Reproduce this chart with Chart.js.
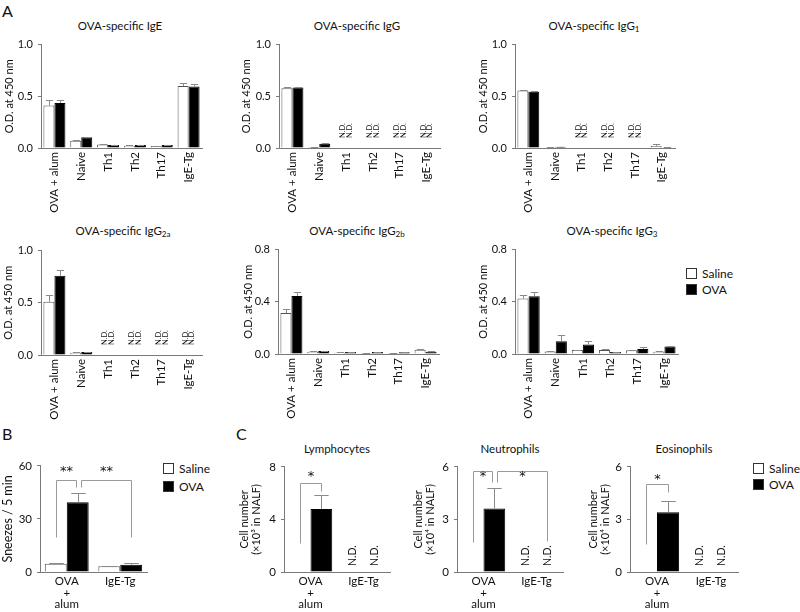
<!DOCTYPE html>
<html lang="en">
<head>
<meta charset="UTF-8">
<title>OVA-specific antibodies, sneezing and NALF cells</title>
<script src="https://cdn.jsdelivr.net/npm/chart.js"></script>
<style>
  body { margin: 0; background: #fff; font-family: Lato, 'Open Sans', sans-serif; color: #111; }
  #page { position: relative; width: 800px; height: 612px; overflow: hidden; }
  canvas { position: absolute; }
  .txt { position: absolute; white-space: nowrap; }
  .letter { font-size: 16px; line-height: 16px; }
  .title { font-size: 11.5px; line-height: 14px; transform: translate(-50%, -50%); }
  .title sub { font-size: 70%; vertical-align: -2px; line-height: 0; }
  .legend { position: absolute; font-size: 12px; white-space: nowrap; }
  .legend div { height: 16px; line-height: 16px; }
  .legend .box { display: inline-block; width: 9px; height: 9px; border: 1px solid #333; margin-right: 5px; vertical-align: -1px; }
</style>
</head>
<body>
<div id="page">
  <div class="txt letter" style="left:2px; top:3px;">A</div>
  <div class="txt letter" style="left:2px; top:426px;">B</div>
  <div class="txt letter" style="left:236px; top:426px;">C</div>

  <div class="txt title" style="left:120px; top:26px;">OVA-specific IgE</div>
  <div class="txt title" style="left:357px; top:26px;">OVA-specific IgG</div>
  <div class="txt title" style="left:594px; top:26px;">OVA-specific IgG<sub>1</sub></div>
  <div class="txt title" style="left:123px; top:231px;">OVA-specific IgG<sub>2a</sub></div>
  <div class="txt title" style="left:357px; top:231px;">OVA-specific IgG<sub>2b</sub></div>
  <div class="txt title" style="left:612px; top:231px;">OVA-specific IgG<sub>3</sub></div>
  <div class="txt title" style="left:337px; top:449px;">Lymphocytes</div>
  <div class="txt title" style="left:510px; top:449px;">Neutrophils</div>
  <div class="txt title" style="left:684px; top:449px;">Eosinophils</div>

  <div class="legend" style="left:686px; top:266px;">
    <div><span class="box" style="background:#fff"></span>Saline</div>
    <div><span class="box" style="background:#000"></span>OVA</div>
  </div>
  <div class="legend" style="left:163px; top:461px;">
    <div style="height:18px"><span class="box" style="background:#fff"></span>Saline</div>
    <div><span class="box" style="background:#000"></span>OVA</div>
  </div>
  <div class="legend" style="left:753px; top:461px;">
    <div><span class="box" style="background:#fff"></span>Saline</div>
    <div><span class="box" style="background:#000"></span>OVA</div>
  </div>
</div>

<script>
  // categories
  const groupsA = ['OVA + alum', 'Naive', 'Th1', 'Th2', 'Th17', 'IgE-Tg'];
  const groupsBC = [['OVA', '+', 'alum'], 'IgE-Tg'];

  // A: O.D. at 450 nm (null = N.D.)
  const igeSaline = [0.41, 0.07, 0.035, 0.022, 0.02, 0.60];
  const igeSalineErr = [0.05, 0.004, 0.004, 0.003, 0.003, 0.03];
  const igeOva = [0.435, 0.105, 0.03, 0.03, 0.03, 0.595];
  const igeOvaErr = [0.03, 0.006, 0.003, 0.003, 0.003, 0.025];

  const iggSaline = [0.578, 0.01, null, null, null, null];
  const iggSalineErr = [0.008, 0.002, 0, 0, 0, 0];
  const iggOva = [0.585, 0.04, null, null, null, null];
  const iggOvaErr = [0.005, 0.006, 0, 0, 0, 0];

  const igg1Saline = [0.555, 0.005, null, null, null, 0.02];
  const igg1SalineErr = [0.005, 0.001, 0, 0, 0, 0.014];
  const igg1Ova = [0.545, 0.012, null, null, null, 0.004];
  const igg1OvaErr = [0.01, 0.002, 0, 0, 0, 0.001];

  const igg2aSaline = [0.51, 0.022, null, null, null, null];
  const igg2aSalineErr = [0.065, 0.003, 0, 0, 0, 0];
  const igg2aOva = [0.76, 0.028, null, null, null, null];
  const igg2aOvaErr = [0.05, 0.003, 0, 0, 0, 0];

  const igg2bSaline = [0.314, 0.018, 0.01, 0.008, 0.008, 0.033];
  const igg2bSalineErr = [0.028, 0.003, 0.002, 0.002, 0.002, 0.007];
  const igg2bOva = [0.445, 0.023, 0.015, 0.015, 0.013, 0.018];
  const igg2bOvaErr = [0.033, 0.002, 0.003, 0.002, 0.002, 0.002];

  const igg3Saline = [0.425, 0.02, 0.03, 0.03, 0.028, 0.018];
  const igg3SalineErr = [0.03, 0.003, 0.004, 0.005, 0.003, 0.002];
  const igg3Ova = [0.443, 0.098, 0.073, 0.015, 0.038, 0.058];
  const igg3OvaErr = [0.032, 0.045, 0.025, 0.002, 0.015, 0.007];

  // B: sneezes / 5 min
  const sneezeSaline = [4.6, 3.2];
  const sneezeSalineErr = [0.4, 0.3];
  const sneezeOva = [39.4, 4.1];
  const sneezeOvaErr = [5.2, 1.1];

  // C: cell number in NALF
  const lymphSaline = [0, null];
  const lymphOva = [4.8, null];
  const lymphOvaErr = [1.07, 0];
  const neutSaline = [0, null];
  const neutOva = [3.62, null];
  const neutOvaErr = [1.2, 0];
  const eosSaline = [0, null];
  const eosOva = [3.41, null];
  const eosOvaErr = [0.62, 0];

  // tick labels
  const ticksOD10 = [0, 0.5, 1.0];
  const ticksOD08 = [0, 0.4, 0.8];
  const ticksSneeze = [0, 30, 60];
  const ticksLymph = [0, 4, 8];
  const ticksCell6 = [0, 3, 6];

  const page = document.getElementById('page');
  Chart.defaults.font.family = "Lato, 'Open Sans', sans-serif";
  Chart.defaults.color = '#111';

  const AXIS = '#7a7a7a';

  // upward error bars with a cap
  const errorBars = {
    id: 'errorBars',
    afterDatasetsDraw(chart) {
      const {ctx} = chart;
      const y = chart.scales.y;
      chart.data.datasets.forEach((ds, di) => {
        if (!ds.errors) return;
        chart.getDatasetMeta(di).data.forEach((bar, i) => {
          const v = ds.data[i], e = ds.errors[i];
          if (v === null || !e) return;
          const x = Math.round(bar.x) + 0.5;
          const y0 = y.getPixelForValue(v), y1 = Math.round(y.getPixelForValue(v + e)) + 0.5;
          const cap = bar.width * 0.33;
          ctx.save();
          ctx.strokeStyle = '#8a8a8a';
          ctx.lineWidth = 1;
          ctx.beginPath();
          ctx.moveTo(x, y0);
          ctx.lineTo(x, y1);
          ctx.moveTo(x - cap, y1);
          ctx.lineTo(x + cap, y1);
          ctx.stroke();
          ctx.restore();
        });
      });
    }
  };

  // "N.D." written upright above the axis where there is no value
  const ndLabels = {
    id: 'ndLabels',
    defaults: {size: 7, gap: 10, squeeze: 1},
    afterDatasetsDraw(chart, args, opts) {
      const {ctx} = chart;
      const {x, y} = chart.scales;
      ctx.save();
      ctx.fillStyle = '#111';
      ctx.font = opts.size + "px Lato, 'Open Sans', sans-serif";
      ctx.textAlign = 'left';
      ctx.textBaseline = 'middle';
      chart.data.datasets.forEach((ds, di) => {
        const meta = chart.getDatasetMeta(di);
        ds.data.forEach((v, i) => {
          if (v !== null) return;
          const cx = x.getPixelForValue(i);
          const px = cx + (meta.data[i].x - cx) * opts.squeeze;
          ctx.save();
          ctx.translate(px, y.bottom - opts.gap);
          ctx.rotate(-Math.PI / 2);
          ctx.fillText('N.D.', 0, 0);
          ctx.restore();
        });
      });
      ctx.restore();
    }
  };

  // significance brackets between bars
  const brackets = {
    id: 'brackets',
    defaults: {items: []},
    afterDatasetsDraw(chart, args, opts) {
      const {ctx} = chart;
      const y = chart.scales.y;
      const barX = ref => Math.round(chart.getDatasetMeta(ref[0]).data[ref[1]].x + (ref[2] || 0)) + 0.5;
      const py = v => Math.round(y.getPixelForValue(v)) + 0.5;
      opts.items.forEach(b => {
        const x1 = barX(b.from), x2 = barX(b.to), yt = py(b.top);
        ctx.save();
        ctx.strokeStyle = '#9a9a9a';
        ctx.lineWidth = 1;
        ctx.beginPath();
        ctx.moveTo(x1, py(b.fromBottom));
        ctx.lineTo(x1, yt);
        ctx.lineTo(x2, yt);
        ctx.lineTo(x2, py(b.toBottom));
        ctx.stroke();
        ctx.fillStyle = '#111';
        ctx.font = "13px 'DejaVu Sans', sans-serif";
        ctx.textAlign = 'center';
        ctx.textBaseline = 'middle';
        ctx.fillText(b.label, (x1 + x2) / 2, y.getPixelForValue(b.labelAt));
        ctx.restore();
      });
    }
  };

  function barChart(s) {
    const titleFont = {size: s.yTitleSize, lineHeight: 1.1};
    const lh = titleFont.size * titleFont.lineHeight;
    const left = Math.round(s.yTitleX - lh / 2);
    const top = s.plot[1] - 10;
    const width = s.plot[2] + 10 - left;
    const height = s.plot[3] + s.xAxisH - top;
    const yAxisW = s.plot[0] - left;

    const canvas = document.createElement('canvas');
    canvas.width = width;
    canvas.height = height;
    canvas.style.left = left + 'px';
    canvas.style.top = top + 'px';
    canvas.style.width = width + 'px';
    canvas.style.height = height + 'px';
    page.appendChild(canvas);

    return new Chart(canvas, {
      type: 'bar',
      data: {
        labels: s.labels,
        datasets: [
          {label: 'Saline', data: s.saline, errors: s.salineErr, backgroundColor: '#fff', borderColor: '#555', borderWidth: 1},
          {label: 'OVA', data: s.ova, errors: s.ovaErr, backgroundColor: '#000', borderColor: '#000', borderWidth: 1}
        ]
      },
      options: {
        responsive: false,
        animation: false,
        layout: {padding: {top: 10, right: 10, left: 0, bottom: 0}},
        datasets: {bar: {categoryPercentage: 0.82, barPercentage: 1}},
        plugins: {
          legend: {display: false},
          tooltip: {enabled: false},
          ndLabels: s.nd,
          brackets: {items: s.brackets || []}
        },
        scales: {
          x: {
            grid: {display: false, drawTicks: false},
            border: {display: true, color: AXIS},
            ticks: {autoSkip: false, maxRotation: s.rot, minRotation: s.rot, padding: 4,
                    font: {size: s.xFontSize, lineHeight: 1}},
            afterFit: sc => { sc.height = s.xAxisH; }
          },
          y: {
            min: s.ticks[0],
            max: s.ticks[s.ticks.length - 1],
            grid: {display: true, drawOnChartArea: false, drawTicks: true, tickLength: 3, color: AXIS},
            border: {display: true, color: AXIS},
            ticks: {padding: 5, font: {size: s.yFontSize}, callback: v => v.toFixed(s.dec)},
            afterBuildTicks: sc => { sc.ticks = s.ticks.map(v => ({value: v})); },
            afterFit: sc => { sc.width = yAxisW; },
            title: {display: true, text: s.yTitle, padding: 0, font: titleFont}
          }
        }
      },
      plugins: [errorBars, ndLabels, brackets]
    });
  }

  const odTitle = 'O.D. at 450 nm';
  const ndA = {size: 7.5, gap: 10, squeeze: 0.62};
  const ndC = {size: 10.5, gap: 6, squeeze: 1};
  const panelA = {labels: groupsA, rot: 90, xAxisH: 70, xFontSize: 11.5, yFontSize: 11, yTitle: odTitle, yTitleSize: 11, dec: 1, nd: ndA};
  const panelBC = {labels: groupsBC, rot: 0, xAxisH: 40, xFontSize: 11.5, yFontSize: 11.5, dec: 0, nd: ndC};
  const cellTitle3 = ['Cell number', '(×10³ in NALF)'];
  const cellTitle4 = ['Cell number', '(×10⁴ in NALF)'];

  barChart({...panelA, plot: [41, 43, 202, 148], yTitleX: 9, ticks: ticksOD10,
    saline: igeSaline, salineErr: igeSalineErr, ova: igeOva, ovaErr: igeOvaErr});
  barChart({...panelA, plot: [279, 43, 440, 148], yTitleX: 246, ticks: ticksOD10,
    saline: iggSaline, salineErr: iggSalineErr, ova: iggOva, ovaErr: iggOvaErr});
  barChart({...panelA, plot: [515, 43, 675, 148], yTitleX: 483, ticks: ticksOD10,
    saline: igg1Saline, salineErr: igg1SalineErr, ova: igg1Ova, ovaErr: igg1OvaErr});
  barChart({...panelA, plot: [41, 249, 202, 355], yTitleX: 8, ticks: ticksOD10,
    saline: igg2aSaline, salineErr: igg2aSalineErr, ova: igg2aOva, ovaErr: igg2aOvaErr});
  barChart({...panelA, plot: [278, 248, 439, 354], yTitleX: 248, ticks: ticksOD08,
    saline: igg2bSaline, salineErr: igg2bSalineErr, ova: igg2bOva, ovaErr: igg2bOvaErr});
  barChart({...panelA, plot: [515, 248, 678, 354], yTitleX: 483, ticks: ticksOD08,
    saline: igg3Saline, salineErr: igg3SalineErr, ova: igg3Ova, ovaErr: igg3OvaErr});

  barChart({...panelBC, plot: [40, 464, 147, 572], yTitleX: 8, yTitle: 'Sneezes / 5 min', yTitleSize: 12.5,
    ticks: ticksSneeze, saline: sneezeSaline, salineErr: sneezeSalineErr, ova: sneezeOva, ovaErr: sneezeOvaErr,
    brackets: [
      {from: [0, 0], to: [1, 0, -2], top: 52.2, fromBottom: 19.6, toBottom: 48.3, label: '**', labelAt: 56.5},
      {from: [1, 0, 3], to: [1, 1], top: 52.2, fromBottom: 48.3, toBottom: 19.6, label: '**', labelAt: 56.5}
    ]});

  barChart({...panelBC, plot: [284, 465, 390, 572], yTitleX: 244, yTitle: cellTitle3, yTitleSize: 11,
    ticks: ticksLymph, saline: lymphSaline, ova: lymphOva, ovaErr: lymphOvaErr,
    brackets: [
      {from: [0, 0], to: [1, 0], top: 6.75, fromBottom: 2.17, toBottom: 6.13, label: '*', labelAt: 7.25}
    ]});
  barChart({...panelBC, plot: [457, 465, 563, 572], yTitleX: 418, yTitle: cellTitle4, yTitleSize: 11,
    ticks: ticksCell6, saline: neutSaline, ova: neutOva, ovaErr: neutOvaErr,
    brackets: [
      {from: [0, 0], to: [1, 0, -2], top: 5.78, fromBottom: 1.7, toBottom: 5.16, label: '*', labelAt: 5.45},
      {from: [1, 0, 3], to: [1, 1], top: 5.78, fromBottom: 5.16, toBottom: 1.75, label: '*', labelAt: 5.45}
    ]});
  barChart({...panelBC, plot: [630, 465, 738, 572], yTitleX: 593, yTitle: cellTitle4, yTitleSize: 11,
    ticks: ticksCell6, saline: eosSaline, ova: eosOva, ovaErr: eosOvaErr,
    brackets: [
      {from: [0, 0], to: [1, 0], top: 5.0, fromBottom: 1.6, toBottom: 4.56, label: '*', labelAt: 5.3}
    ]});
</script>
</body>
</html>
